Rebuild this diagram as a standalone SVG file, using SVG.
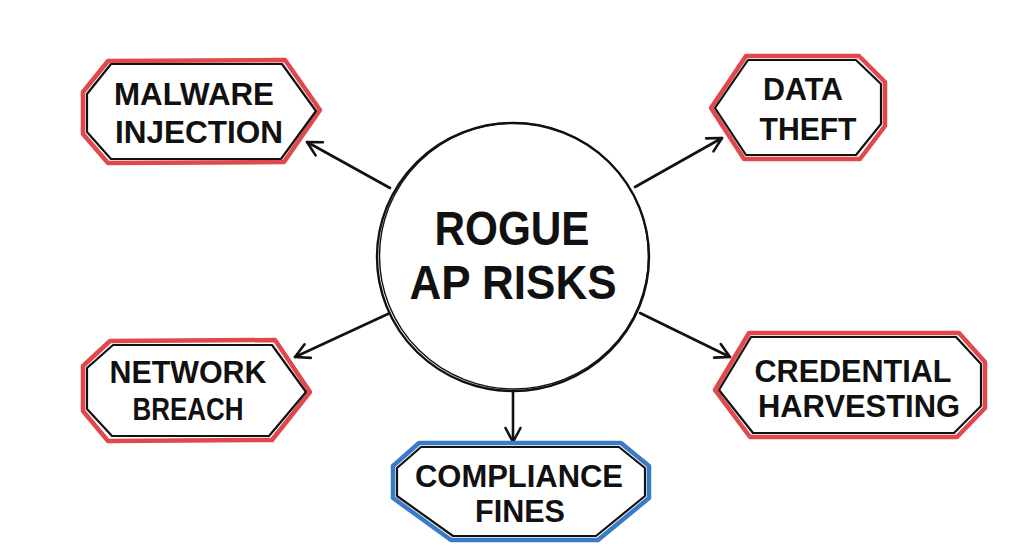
<svg xmlns="http://www.w3.org/2000/svg" width="1024" height="559" viewBox="0 0 1024 559">
<style>
.lbl{font-family:"Liberation Sans",Arial,sans-serif;font-weight:700;font-size:31px;fill:#111;text-anchor:middle}
.big{font-family:"Liberation Sans",Arial,sans-serif;font-weight:700;font-size:48px;fill:#111;text-anchor:middle}
.red{fill:none;stroke:#e0484c;stroke-width:4.5;stroke-linejoin:round;stroke-linecap:round}
.blue{fill:none;stroke:#3a7bc8;stroke-width:4.5;stroke-linejoin:round;stroke-linecap:round}
.ink{fill:#fff;stroke:#111;stroke-width:2.2;stroke-linejoin:round;stroke-linecap:round}
.conn{fill:none;stroke:#111;stroke-width:2.6;stroke-linecap:round}
</style>
<defs>
<marker id="ah" viewBox="-16 -9 18 18" refX="0" refY="0" markerWidth="18" markerHeight="18" markerUnits="userSpaceOnUse" orient="auto">
<path d="M-14,-7.5 L0,0 L-14,7.5" fill="none" stroke="#111" stroke-width="2.6" stroke-linecap="round" stroke-linejoin="round"/>
</marker>
</defs>
<rect width="1024" height="559" fill="#fff"/>
<g id="connectors">
<line class="conn" x1="390" y1="188" x2="307" y2="142" marker-end="url(#ah)"/>
<line class="conn" x1="635" y1="187" x2="722" y2="138" marker-end="url(#ah)"/>
<line class="conn" x1="390" y1="313" x2="295" y2="357" marker-end="url(#ah)"/>
<line class="conn" x1="640" y1="313" x2="730" y2="357" marker-end="url(#ah)"/>
<line class="conn" x1="513" y1="391" x2="513" y2="442" marker-end="url(#ah)"/>
</g>
<g id="center">
<ellipse cx="513" cy="257" rx="136" ry="134" fill="#fff" stroke="#111" stroke-width="2.4"/>
<ellipse cx="514" cy="256" rx="134.5" ry="133" fill="none" stroke="#111" stroke-width="1.4"/>
<text class="big" x="512" y="245" textLength="155" lengthAdjust="spacingAndGlyphs">ROGUE</text>
<text class="big" x="513" y="299" textLength="207" lengthAdjust="spacingAndGlyphs">AP RISKS</text>
</g>
<g id="malware">
<polygon class="red" points="108,61 285,60 320,110 284,162 108,163 83,134 83,92"/>
<polygon class="ink" points="111,64 282,64 316,111 281,159 111,159 87,132 87,94"/>
<text class="lbl" x="194" y="105" textLength="160" lengthAdjust="spacingAndGlyphs">MALWARE</text>
<text class="lbl" x="199" y="143" textLength="168" lengthAdjust="spacingAndGlyphs">INJECTION</text>
</g>
<g id="datatheft">
<polygon class="red" points="746,56 859,56 885,82 885,126 860,159 744,159 711,108"/>
<polygon class="ink" points="748,60 856,60 881,84 881,124 856,155 746,155 715,108"/>
<text class="lbl" x="803" y="100" textLength="80" lengthAdjust="spacingAndGlyphs">DATA</text>
<text class="lbl" x="808" y="140" textLength="97" lengthAdjust="spacingAndGlyphs">THEFT</text>
</g>
<g id="network">
<polygon class="red" points="110,341 275,340 310,392 272,440 108,441 83,411 83,366"/>
<polygon class="ink" points="113,345 272,345 306,392 269,436 112,436 87,409 87,368"/>
<text class="lbl" x="188" y="383" textLength="157" lengthAdjust="spacingAndGlyphs">NETWORK</text>
<text class="lbl" x="188" y="420" textLength="111" lengthAdjust="spacingAndGlyphs">BREACH</text>
</g>
<g id="credential">
<polygon class="red" points="749,333 959,333 985,362 985,408 957,437 750,437 715,390"/>
<polygon class="ink" points="751,337 956,337 981,364 981,406 954,433 753,433 719,390"/>
<text class="lbl" x="853" y="382" textLength="197" lengthAdjust="spacingAndGlyphs">CREDENTIAL</text>
<text class="lbl" x="859" y="417" textLength="202" lengthAdjust="spacingAndGlyphs">HARVESTING</text>
</g>
<g id="compliance">
<polygon class="blue" points="419,443 621,443 649,466 649,498 598,540 451,540 393,498 393,466"/>
<polygon class="ink" points="421,447 619,447 645,468 645,496 596,536 453,536 397,496 397,468"/>
<text class="lbl" x="519" y="487" textLength="208" lengthAdjust="spacingAndGlyphs">COMPLIANCE</text>
<text class="lbl" x="520" y="522" textLength="90" lengthAdjust="spacingAndGlyphs">FINES</text>
</g>
</svg>
